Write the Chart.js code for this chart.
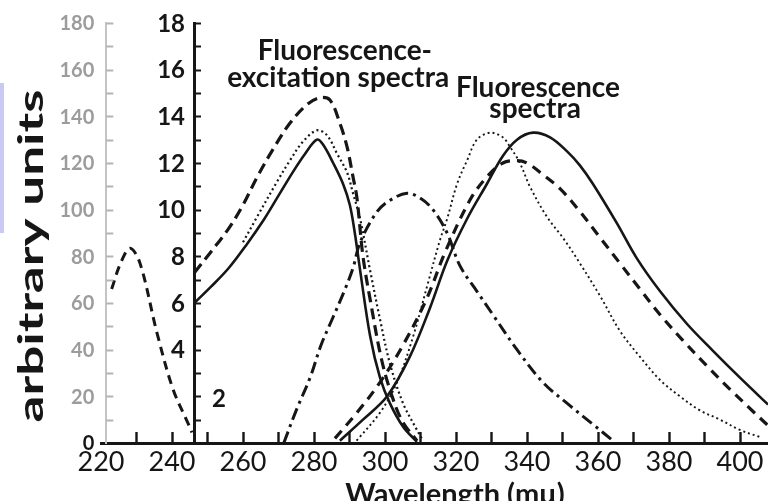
<!DOCTYPE html>
<html><head><meta charset="utf-8">
<script src="https://cdn.jsdelivr.net/npm/chart.js@4.4.1/dist/chart.umd.min.js"></script>
<style>html,body{margin:0;padding:0;background:#fff;overflow:hidden}canvas{display:block}</style>
</head><body>
<canvas id="c" width="768" height="501"></canvas>
<script>
// ---- data (wavelength in mμ, intensity in arbitrary units) ----
const xTickStep = 10;
const yTickStep = 1;
const yAxisAt = 246.2;
const ghostAxisAt = 221.5;

const leftDashWl  = [223.0, 225.5, 228.2, 231.0, 235.8, 240.3, 244.5, 245.6];
const leftDashVal = [6.6, 7.7, 8.35, 7.7, 4.7, 2.3, 0.85, 0.45];

const excDashWl  = [246.3, 251, 256, 260, 264, 268.5, 273.2, 278, 281.7, 284.5, 287.3, 289.3, 291, 292.1, 293.8, 296, 299, 302, 305, 309];
const excDashVal = [7.3, 8.2, 9.2, 10.2, 11.4, 12.6, 13.7, 14.5, 14.8, 14.7, 13.7, 12.7, 11.4, 10.5, 8.0, 6.0, 3.6, 2.0, 0.9, 0.1];

const excSolidWl  = [246.3, 251, 256, 261, 266, 270, 274, 277.5, 280.8, 282.5, 285.4, 288.2, 290.1, 291.5, 293, 295.8, 298.6, 301.4, 305.1, 309];
const excSolidVal = [6.0, 6.7, 7.5, 8.5, 9.6, 10.6, 11.6, 12.4, 13.0, 12.8, 12.0, 11.1, 10.2, 9.0, 7.4, 4.6, 2.8, 1.7, 0.7, 0.05];

const excDotWl  = [260, 264, 269.6, 273.2, 276.8, 280.8, 283.6, 286.5, 289.3, 291, 293, 295.8, 298.6, 301.4, 305.1, 309, 310.7];
const excDotVal = [8.6, 9.7, 11.2, 12.1, 12.9, 13.4, 13.2, 12.4, 11.6, 10.7, 9.6, 7.4, 5.3, 3.4, 1.7, 0.56, 0.1];

const dashDotWl  = [271.5, 275, 278.9, 282, 285.4, 288.5, 291, 293, 297.7, 301.4, 306.2, 309.9, 313.5, 317.5, 321.1, 325.9, 330.4, 337.2, 344.5, 352.1, 358.6, 364.2];
const dashDotVal = [0, 1.4, 2.8, 4.2, 5.4, 6.5, 7.5, 8.6, 9.9, 10.4, 10.7, 10.5, 10.0, 9.0, 7.6, 6.5, 5.5, 4.0, 2.6, 1.6, 0.8, 0.1];

const fluDotWl  = [292, 298.6, 303.4, 308, 312, 315.5, 317.5, 320.3, 323.1, 325.9, 329.6, 333.2, 335.2, 338, 340.8, 345.6, 350.1, 354.5, 360.6, 366.2, 371.8, 377.5, 383.1, 388.7, 394.4, 400, 405.6];
const fluDotVal = [0.1, 1.3, 2.6, 4.6, 6.8, 8.7, 9.6, 11.1, 12.1, 13.0, 13.3, 13.1, 12.7, 12.0, 11.0, 9.7, 8.8, 7.8, 6.3, 4.8, 3.7, 2.7, 2.0, 1.4, 1.0, 0.56, 0.26];

const fluSolidWl  = [287.3, 293.8, 300.6, 307, 312.7, 317.5, 323.1, 328.7, 333.2, 337.2, 341.7, 346.5, 351.3, 354.9, 358.6, 365.4, 371, 377.5, 385.1, 392.4, 400, 407.9];
const fluSolidVal = [0.1, 1.0, 2.0, 3.7, 5.8, 7.8, 9.6, 11.1, 12.3, 13.0, 13.3, 13.1, 12.5, 11.9, 11.1, 9.4, 7.9, 6.5, 5.1, 3.95, 2.8, 1.65];

const fluDashWl  = [285.9, 292.1, 298.6, 305.1, 311.8, 317, 323.9, 328.7, 333.2, 337.2, 340, 344.5, 349.3, 354.5, 360.6, 366.2, 371.8, 377.5, 383.9, 390.7, 397.2, 403.7, 407.9];
const fluDashVal = [0.2, 1.3, 2.6, 4.2, 6.2, 8.2, 10.4, 11.4, 12.0, 12.1, 12.0, 11.5, 10.9, 10.0, 8.8, 7.7, 6.6, 5.5, 4.4, 3.3, 2.3, 1.35, 0.75];

const yTickLabels = ['4', '6', '8', '10', '12', '14', '16', '18'];
const ghostTickLabels = ['0', '20', '40', '60', '80', '100', '120', '140', '160', '180'];

const annotations = [
  {text: 'Fluorescence-', x: 288.7, y: 16.4},
  {text: 'excitation spectra', x: 286.8, y: 15.26},
  {text: 'Fluorescence', x: 343.1, y: 14.83},
  {text: 'spectra', x: 342.3, y: 13.93}
];

// ---- build datasets ----
const zip = (xs, ys) => xs.map((x, i) => ({x, y: ys[i]}));
const ink = '#161616';
function ds(xs, ys, dash, w) {
  return {data: zip(xs, ys), borderColor: ink, borderWidth: w, borderDash: dash,
          pointRadius: 0, fill: false, tension: 0.35};
}
const datasets = [
  ds(leftDashWl, leftDashVal, [9, 6], 3),
  ds(excDashWl, excDashVal, [11, 6], 3.2),
  ds(excSolidWl, excSolidVal, [], 2.6),
  ds(excDotWl, excDotVal, [2, 3], 2.2),
  ds(dashDotWl, dashDotVal, [12, 5, 3, 5], 3),
  ds(fluDotWl, fluDotVal, [2, 3], 1.9),
  ds(fluSolidWl, fluSolidVal, [], 2.6),
  ds(fluDashWl, fluDashVal, [10, 7], 3.2)
];

const textPlugin = {
  id: 'texts',
  beforeDraw(chart) {
    const c = chart.ctx;
    c.save();
    c.fillStyle = '#c9c9f4';
    c.fillRect(0, 83, 4, 150);
    c.restore();
  },
  afterDraw(chart) {
    const c = chart.ctx, xs = chart.scales.x, ys = chart.scales.y, y2 = chart.scales.y2;
    const x0 = xs.getPixelForValue(yAxisAt);
    const gx = xs.getPixelForValue(ghostAxisAt);
    const yBase = ys.getPixelForValue(0);
    c.save();
    // inward tick marks drawn from the scales' own ticks
    c.strokeStyle = ink;
    c.lineWidth = 2.4;
    c.beginPath();
    xs.ticks.forEach(t => {
      if (t.value <= xs.min) return;
      const px = Math.round(xs.getPixelForValue(t.value)) + 0.5;
      c.moveTo(px, yBase); c.lineTo(px, yBase - 11);
    });
    c.stroke();
    c.lineWidth = 2;
    c.beginPath();
    ys.ticks.forEach(t => {
      if (t.value <= 0) return;
      const py = Math.round(ys.getPixelForValue(t.value)) + 0.5;
      c.moveTo(x0, py); c.lineTo(x0 + 7, py);
    });
    c.stroke();
    c.strokeStyle = '#b4b4b4';
    c.beginPath();
    y2.ticks.forEach(t => {
      if (t.value <= 0) return;
      const py = Math.round(y2.getPixelForValue(t.value)) + 0.5;
      c.moveTo(gx, py); c.lineTo(gx + 7, py);
    });
    c.stroke();

    // y tick labels (left of the axis)
    c.textAlign = 'right';
    c.textBaseline = 'middle';
    c.fillStyle = ink;
    c.font = 'bold 24px Lato, sans-serif';
    yTickLabels.forEach(l => c.fillText(l, x0 - 9, ys.getPixelForValue(+l) + 1));
    c.font = 'bold 20px Lato, sans-serif';
    ghostTickLabels.forEach(l => {
      c.fillStyle = l === '0' ? ink : '#9c9c9c';
      c.fillText(l, gx - 12, y2.getPixelForValue(+l) + 1);
    });
    c.fillStyle = ink;

    c.font = 'bold 28px Lato, "Open Sans", sans-serif';
    c.textAlign = 'center';
    c.textBaseline = 'alphabetic';
    annotations.forEach(a => c.fillText(a.text, xs.getPixelForValue(a.x), ys.getPixelForValue(a.y)));
    // "2" tick label placed right of the axis
    c.font = 'bold 24px Lato, sans-serif';
    c.textAlign = 'left';
    c.textBaseline = 'middle';
    c.fillText('2', x0 + 18, ys.getPixelForValue(2) + 3);
    // x axis title (cut off at bottom)
    c.font = 'bold 29px Lato, sans-serif';
    c.textAlign = 'center';
    c.textBaseline = 'top';
    c.fillText('Wavelength (mμ)', xs.getPixelForValue(319.7), yBase + 37);
    // handwritten y title
    c.translate(32, 256);
    c.rotate(-Math.PI / 2);
    c.font = 'bold 34px Lato, sans-serif';
    c.textBaseline = 'middle';
    c.textAlign = 'center';
    const w = c.measureText('arbitrary units').width;
    c.scale(333 / w, 1);
    c.fillText('arbitrary units', 0, 0);
    c.restore();
  }
};

new Chart(document.getElementById('c'), {
  type: 'line',
  data: {datasets},
  plugins: [textPlugin],
  options: {
    responsive: false,
    animation: false,
    layout: {padding: {left: 101, right: 0, top: 23, bottom: 58}},
    plugins: {legend: {display: false}, tooltip: {enabled: false}},
    scales: {
      x: {
        type: 'linear', min: 220, max: 407.9,
        position: {y: 0},
        border: {display: true, color: ink, width: 3},
        grid: {display: false, drawTicks: false},
        ticks: {stepSize: xTickStep, autoSkip: false, maxRotation: 0, includeBounds: false,
                padding: 3, color: ink,
                font: {family: 'Lato, sans-serif', size: 27},
                callback: v => (v % 20 === 0 ? String(v) : '')}
      },
      y: {
        type: 'linear', min: 0, max: 18,
        position: {x: yAxisAt},
        border: {display: true, color: ink, width: 3},
        grid: {display: false, drawTicks: false},
        ticks: {stepSize: yTickStep, display: false}
      },
      y2: {
        type: 'linear', min: 0, max: 180,
        position: {x: ghostAxisAt},
        border: {display: true, color: '#c4c4c4', width: 2, dash: [4, 3]},
        grid: {display: false, drawTicks: false},
        ticks: {stepSize: 10, display: false}
      }
    }
  }
});
</script>
</body></html>
